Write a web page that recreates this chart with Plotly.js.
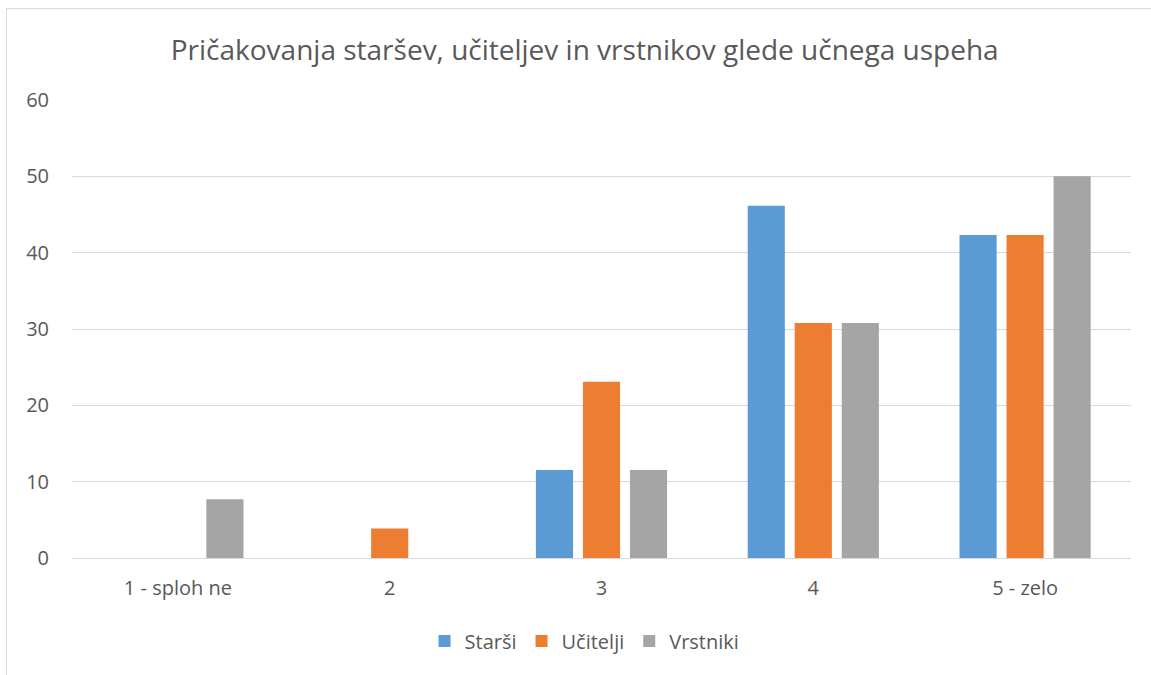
<!DOCTYPE html>
<html>
<head>
<meta charset="utf-8">
<script src="https://cdn.plot.ly/plotly-3.0.1.min.js"></script>
<style>
html,body{margin:0;padding:0;background:#fff;}
#frame{position:absolute;left:6px;top:8px;width:1200px;height:700px;border:1px solid #d9d9d9;box-sizing:border-box;}
#chart{position:absolute;left:0;top:0;width:1151px;height:675px;}
</style>
</head>
<body>
<div id="frame"></div>
<div id="chart"></div>
<script>
const categories = ["1 - sploh ne", "2", "3", "4", "5 - zelo"];
const starsi = [0, 0, 11.54, 46.15, 42.31];
const ucitelji = [0, 3.85, 23.08, 30.77, 42.31];
const vrstniki = [7.69, 0, 11.54, 30.77, 50];
const seriesNames = ["Starši", "Učitelji", "Vrstniki"];
const colors = ["#5B9BD5", "#ED7D31", "#A5A5A5"];
const yTicks = [0, 10, 20, 30, 40, 50, 60];

const font = "Open Sans, Noto Sans, sans-serif";
const data = [starsi, ucitelji, vrstniki].map((vals, i) => ({
  type: "bar",
  name: seriesNames[i],
  x: categories,
  y: vals,
  marker: {color: colors[i]},
  hoverinfo: "x+y+name"
}));

const layout = {
  width: 1151,
  height: 675,
  paper_bgcolor: "rgba(0,0,0,0)",
  plot_bgcolor: "rgba(0,0,0,0)",
  margin: {l: 72, r: 20, t: 100, b: 117},
  font: {family: font, color: "#595959", size: 20},
  title: {
    text: "Pričakovanja staršev, učiteljev in vrstnikov glede učnega uspeha",
    font: {family: font, size: 28, color: "#595959"},
    x: 0.508, xanchor: "center",
    y: 1 - 50/675, yref: "container", yanchor: "middle"
  },
  barmode: "group",
  bargap: 0.334,
  bargroupgap: 0.21,
  xaxis: {
    type: "category",
    showgrid: false,
    showline: true,
    linecolor: "#d9d9d9",
    linewidth: 1,
    ticks: "",
    ticklabelstandoff: 12,
    tickfont: {size: 20, color: "#595959"}
  },
  yaxis: {
    range: [0, 60],
    tickvals: yTicks,
    showgrid: true,
    gridcolor: "#d9d9d9",
    gridwidth: 1,
    zeroline: false,
    showline: false,
    ticks: "",
    ticklabelstandoff: 22,
    tickfont: {size: 20, color: "#595959"}
  },
  legend: {
    orientation: "h",
    x: 0.484, xanchor: "center",
    y: -0.181, yanchor: "middle",
    font: {size: 20, color: "#595959"},
    itemwidth: 30,
    traceorder: "normal"
  },
  showlegend: true
};

Plotly.newPlot("chart", data, layout, {displayModeBar: false});
</script>
</body>
</html>
